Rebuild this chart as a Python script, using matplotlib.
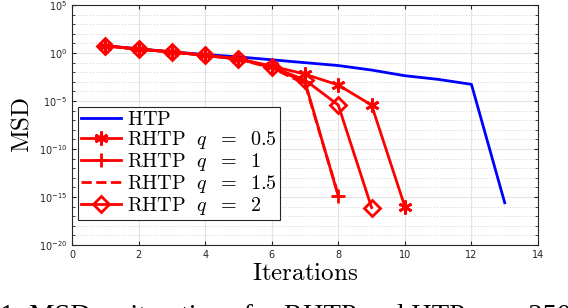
import matplotlib
matplotlib.use("Agg")
import matplotlib.pyplot as plt
import numpy as np

plt.rcParams["mathtext.fontset"] = "cm"

# log10(MSD), one value per iteration
htp_iter = [1, 2, 3, 4, 5, 6, 7, 8, 9, 10, 11, 12, 13]
htp_log = [0.76, 0.45, 0.12, -0.15, -0.4, -0.7, -1.0, -1.3, -1.77, -2.36, -2.74, -3.26, -15.6]

q05_iter = [1, 2, 3, 4, 5, 6, 7, 8, 9, 10]
q05_log = [0.76, 0.4, 0.12, -0.25, -0.6, -1.35, -2.2, -3.33, -5.42, -16.0]

q1_iter = [1, 2, 3, 4, 5, 6, 7, 8]
q1_log = [0.76, 0.4, 0.12, -0.25, -0.62, -1.5, -3.0, -14.9]

q15_iter = [1, 2, 3, 4, 5, 6, 7, 8]
q15_log = [0.76, 0.4, 0.12, -0.25, -0.62, -1.55, -3.2, -14.8]

q2_iter = [1, 2, 3, 4, 5, 6, 7, 8, 9]
q2_log = [0.76, 0.4, 0.12, -0.25, -0.6, -1.45, -2.8, -5.42, -16.1]

fig = plt.figure(figsize=(5.68, 3.08), dpi=100)
ax = fig.add_axes([0.1268, 0.2045, 0.8204, 0.779])

red = "#ff0000"
ax.plot(htp_iter, 10.0 ** np.array(htp_log), color="#0000ff", lw=2, label=r"$\mathrm{HTP}$")
ax.plot(q05_iter, 10.0 ** np.array(q05_log), color=red, lw=2, marker=(6, 2, 0),
        ms=10, mew=2, label=r"$\mathrm{RHTP}\ \ q\ \;=\ \;0.5$")
ax.plot(q1_iter, 10.0 ** np.array(q1_log), color=red, lw=2, marker="+",
        ms=10, mew=2, label=r"$\mathrm{RHTP}\ \ q\ \;=\ \;1$")
ax.plot(q15_iter, 10.0 ** np.array(q15_log), color=red, lw=2, ls="--",
        label=r"$\mathrm{RHTP}\ \ q\ \;=\ \;1.5$")
ax.plot(q2_iter, 10.0 ** np.array(q2_log), color=red, lw=2, marker="D",
        ms=8, mew=2, mfc="none", label=r"$\mathrm{RHTP}\ \ q\ \;=\ \;2$")

ax.set_yscale("log")
ax.set_xlim(0, 14)
ax.set_ylim(1e-20, 1e5)
ax.set_xticks(range(0, 15, 2))
ax.set_yticks([10.0 ** e for e in range(-20, 6, 5)])
ax.set_yticks([10.0 ** e for e in range(-20, 6)], minor=True)
ax.yaxis.set_minor_formatter(matplotlib.ticker.NullFormatter())

ax.grid(True, which="major", color="#e3e3e3", lw=0.8, ls="-")
ax.grid(True, which="minor", axis="y", color="#d0d0d0", lw=0.7, ls=(0, (1, 2)))
ax.set_axisbelow(True)
ax.tick_params(which="both", direction="in", top=True, right=True, labelsize=7,
               colors="#262626", length=3)
ax.tick_params(which="minor", length=2)
for s in ax.spines.values():
    s.set_color("#262626")
    s.set_linewidth(0.8)

ax.set_xlabel(r"$\mathrm{Iterations}$", fontsize=18, labelpad=1)
ax.set_ylabel(r"$\mathrm{MSD}$", fontsize=18, labelpad=4)

leg = ax.legend(loc="lower left", bbox_to_anchor=(0.012, 0.104), fontsize=14.5,
                handlelength=2.0, handletextpad=0.3, labelspacing=0.0,
                borderpad=0.15, borderaxespad=0, fancybox=False, framealpha=1,
                edgecolor="#262626")
leg.get_frame().set_linewidth(0.8)

# caption of the source figure, cut by the bottom edge as in the reference
fig.text(0.0, -0.05, "1: MSD vs iterations for RHTP and HTP, m = 250",
         fontsize=20.5, family="Liberation Serif", va="baseline", ha="left")

fig.savefig("out.png", dpi=100)
